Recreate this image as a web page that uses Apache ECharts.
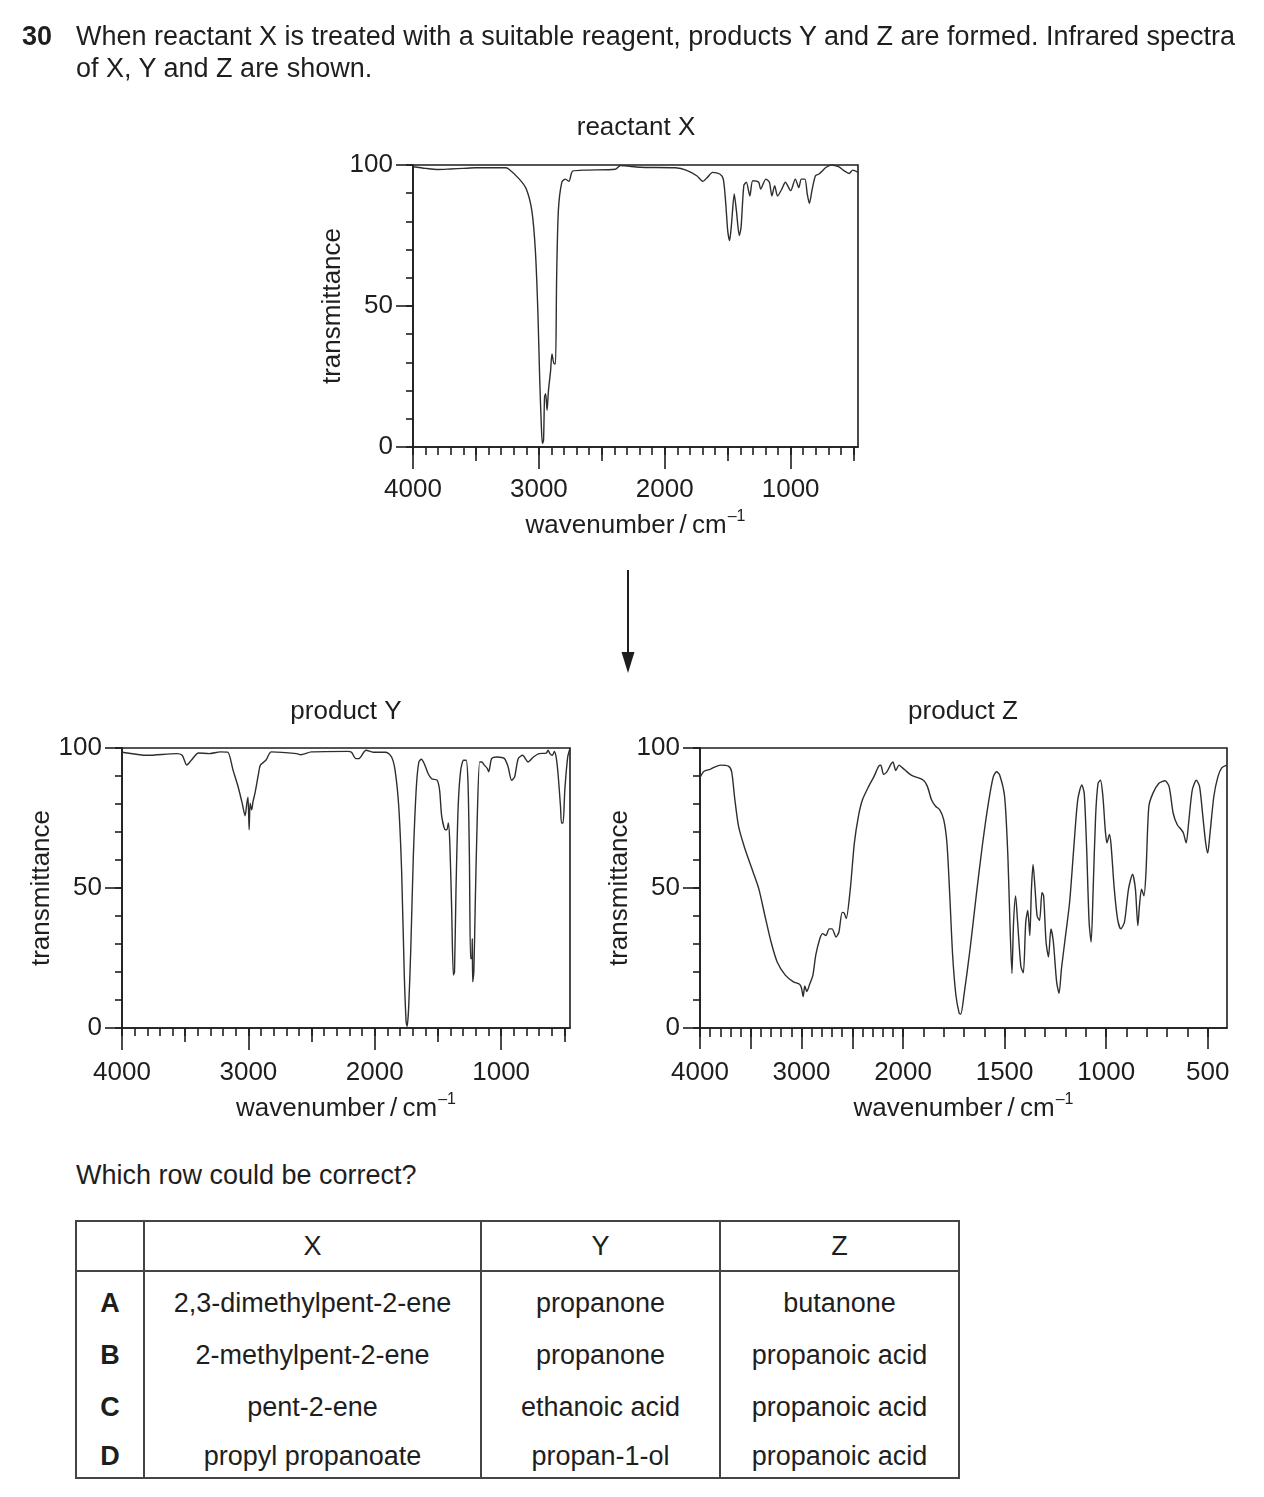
<!DOCTYPE html>
<html>
<head>
<meta charset="utf-8">
<script src="https://cdn.jsdelivr.net/npm/echarts@6/dist/echarts.min.js"></script>
<style>
  html, body { margin: 0; padding: 0; background: #fff; }
  body { font-family: "Liberation Sans", Arial, sans-serif; color: #1e1e1e; }
  #page { position: relative; width: 1264px; height: 1497px; overflow: hidden; }
  #chart { position: absolute; left: 0; top: 0; width: 1264px; height: 1150px; }
  .txt { position: absolute; font-size: 27px; line-height: 32px; white-space: nowrap; }
  table { position: absolute; left: 75px; top: 1220px; border-collapse: collapse; font-size: 27px; }
  td { border-left: 2px solid #444; border-right: 2px solid #444; text-align: center; padding: 0; }
  table { border: 2px solid #444; }
  tr.head td { border-bottom: 2px solid #444; height: 48px; }
  td.let { font-weight: bold; }
</style>
</head>
<body>
<div id="page">
  <div id="chart"></div>
  <div class="txt" style="left:22px;top:20px;font-weight:bold;">30</div>
  <div class="txt" style="left:76px;top:20px;">When reactant X is treated with a suitable reagent, products Y and Z are formed. Infrared spectra<br>of X, Y and Z are shown.</div>
  <div class="txt" style="left:76px;top:1159px;">Which row could be correct?</div>
  <table>
    <colgroup><col style="width:68px"><col style="width:337px"><col style="width:239px"><col style="width:239px"></colgroup>
    <tr class="head"><td></td><td>X</td><td>Y</td><td>Z</td></tr>
    <tr style="height:58px"><td class="let" style="padding-top:6px">A</td><td style="padding-top:6px">2,3-dimethylpent-2-ene</td><td style="padding-top:6px">propanone</td><td style="padding-top:6px">butanone</td></tr>
    <tr style="height:52px"><td class="let">B</td><td>2-methylpent-2-ene</td><td>propanone</td><td>propanoic acid</td></tr>
    <tr style="height:52px"><td class="let">C</td><td>pent-2-ene</td><td>ethanoic acid</td><td>propanoic acid</td></tr>
    <tr style="height:45px"><td class="let" style="padding-top:3px">D</td><td style="padding-top:3px">propyl propanoate</td><td style="padding-top:3px">propan-1-ol</td><td style="padding-top:3px">propanoic acid</td></tr>
  </table>
</div>
<script>
// ---------- data: reactant X ----------
const reactantXWavenumber = [4000,3900,3800,3700,3600,3500,3400,3268,3240,3155,3100,3056,3028,3008,2994,2980,2972,2963,2955,2946,2935,2924,2907,2896,2879,2868,2859,2845,2817,2789,2761,2732,2620,2394,2352,2197,1915,1831,1746,1696,1662,1620,1563,1535,1515,1500,1485,1470,1448,1431,1408,1394,1372,1352,1324,1301,1254,1239,1197,1169,1149,1127,1104,1070,1042,1000,963,935,915,887,868,851,831,803,775,746,718,676,620,577,535,507,465];
const reactantXTransmittance = [99.4,98.8,98.4,98.6,98.8,99,99,99,98.6,95,91.5,83.8,69.7,48,24.8,7,1.2,2.4,17.7,18.9,13,20,27,33,29.5,29.5,60,84,94,95,94.2,97.8,98.2,98.5,99.8,99.2,99,98.2,96.2,94.2,95.6,97.4,96.8,95,86,76.7,73.2,79,89.7,83.8,75,77.9,92.7,93.9,89,94.4,93.9,91.5,95,93.9,89,92.7,89,91.5,93.9,90.9,95,92,95,95,89.7,86.4,90.9,96.2,96.8,98,99.2,100,99.4,98,97,98.2,97.4];

// ---------- data: product Y ----------
const productYWavenumber = [4000,3798,3568,3524,3487,3452,3395,3308,3222,3164,3121,3084,3049,3026,3012,3003,2994,2986,2974,2963,2948,2919,2905,2862,2818,2617,2588,2501,2213,2184,2150,2127,2069,2012,1911,1867,1839,1810,1787,1767,1752,1744,1732,1715,1695,1671,1651,1631,1608,1579,1550,1507,1487,1470,1441,1429,1418,1406,1392,1378,1369,1357,1340,1320,1297,1277,1262,1251,1242,1233,1228,1225,1216,1205,1190,1170,1153,1133,1110,1098,1075,1032,974,945,917,893,865,830,787,744,700,643,628,614,594,579,565,550,530,522,510,496,473,455];
const productYTransmittance = [98.5,97.4,98,97.4,93.9,95.6,98.2,98,98.6,98.5,92,86.6,80.3,75.8,80.3,82.4,70.8,80.3,77.9,80.9,83.8,91,93.9,95.6,98.6,98,97.6,98.6,98.8,98.5,96.2,96.2,99.2,98.5,98.5,96.8,92,79,55.5,20,2.4,0.6,7,28,61,86,95,96,94.4,91,89,88.5,85,75.6,70.8,70.8,73.2,66,43.7,18.9,20,49.6,79,92,95.6,95.6,87.4,61,24.8,24.8,31.9,16.5,20,43.7,73.2,95,95,93.9,92.7,91.5,96.2,96.8,96.2,93.3,88.5,89.7,96.2,97.4,95,96.8,98,98.2,99.2,98,97.4,98.8,96.8,91,79,73.2,73.2,85,96.8,99.8];

// ---------- data: product Z ----------
const productZWavenumber = [4000,3960,3900,3800,3720,3688,3660,3620,3560,3480,3420,3360,3300,3240,3160,3080,3020,3000,2984,2968,2948,2920,2888,2860,2820,2792,2760,2728,2700,2660,2632,2600,2580,2560,2520,2480,2440,2400,2340,2288,2240,2220,2192,2160,2120,2100,2072,2040,2008,1960,1900,1880,1860,1840,1820,1800,1784,1770,1756,1740,1724,1716,1700,1670,1640,1610,1580,1556,1540,1524,1500,1484,1474,1464,1456,1446,1436,1420,1408,1396,1386,1376,1368,1360,1350,1340,1328,1316,1308,1296,1284,1272,1260,1244,1232,1220,1200,1180,1160,1140,1120,1108,1096,1084,1074,1064,1052,1040,1028,1016,1004,996,984,976,960,944,928,910,890,870,856,844,836,826,814,804,790,770,740,710,690,670,650,630,620,606,594,576,556,540,524,510,500,490,470,450,430,405];
const productZTransmittance = [89.5,91.7,92.4,93.9,93.5,91.5,82.6,72,64.3,56,49.6,40,30.7,23.6,18.9,16.5,15.6,14.2,11.2,15,13,15.6,18.9,26,31.9,33.7,33,35.4,35.4,32.5,34.3,41.3,41,39.1,49.6,66,75.6,81.5,86.2,89.7,93.5,93.9,90.6,91.5,94.2,95,92,93.9,93,90.3,88.5,86.2,81.5,79.2,78,74.4,66,47.2,26,11.8,5.3,5,11.8,28.3,47.2,65,80.3,89.7,91.5,90.3,82.6,61.4,37.8,19.5,37.8,47.2,37.8,22,19.7,37.8,42,33,49.6,58.4,49.6,40,38.4,48.4,47.2,30.7,25.4,35.4,30.7,16.5,12.4,21.3,33,44.9,63.8,81.5,86.8,83.8,63.8,37.8,30.7,49.6,75.6,87.4,88.5,82.6,70.3,66.1,69.1,65.5,49.6,39,35.4,37.8,49.6,54.9,49.6,36.6,43.7,49.6,47.2,55.5,79,83.8,87.4,88.3,86.2,76.7,72.6,70.8,69.7,66.1,73.2,85,88.5,86.2,75.6,66.1,62.5,68.5,82.6,89.7,93,93.9];

// ---------- axis ticks ----------
const xyLabelTicks = [4000, 3000, 2000, 1000];
const xyMidTicks = [3500, 2500, 1500, 500];
const zLabelTicks = [4000, 3000, 2000, 1500, 1000, 500];
const zLongTicks = [4000, 3500, 3000, 2500, 2000, 1500, 1000, 500];
const transLabelTicks = [0, 50, 100];
const transMinorTicks = [0, 10, 20, 30, 40, 50, 60, 70, 80, 90, 100];
function stepDown(a, b, s) { const r = []; for (let v = a; v >= b; v -= s) r.push(v); return r; }
const minorWaveTicks = stepDown(4000, 500, 100);

// product Z uses a scale change at 2000 cm-1 (double scale below 2000)
function zPos(w) { return w >= 2000 ? (4000 - w) / 2 : 1000 + (2000 - w); }
function zInv(p) { return p <= 1000 ? 4000 - 2 * p : 2000 - (p - 1000); }

const FONT = '"Liberation Sans", Arial, sans-serif';
const INK = '#1e1e1e';
const LINE = '#2e2e2e';
const FS = 26;

const waveName = '{a|wavenumber\u2009/\u2009cm}{s|\u20131}';
const nameStyle = {
  color: INK, fontFamily: FONT, fontSize: FS,
  rich: {
    a: { fontSize: FS, fontFamily: FONT, color: INK, lineHeight: 30, verticalAlign: 'bottom' },
    s: { fontSize: 16, fontFamily: FONT, color: INK, lineHeight: 30, verticalAlign: 'top', padding: [0, 0, 0, 1] }
  }
};

function xAxesFor(grid, min, max, inverse, map, fmt, levels, labelVals, labelMargin, nameGap) {
  return levels.map((lv, i) => ({
    type: 'value', gridIndex: grid, position: 'bottom', min: min, max: max, inverse: inverse,
    splitLine: { show: false },
    axisLine: { show: i === 0, onZero: false, lineStyle: { color: INK, width: 1.6 } },
    axisTick: { show: true, customValues: lv.vals.map(map), length: lv.len, lineStyle: { color: INK, width: 1.6 } },
    axisLabel: { show: i === 0, customValues: labelVals.map(map), formatter: fmt, margin: labelMargin,
                 fontSize: FS, color: INK, fontFamily: FONT },
    name: i === 0 ? waveName : '', nameLocation: 'middle', nameGap: nameGap, nameTextStyle: nameStyle,
    z: 5
  }));
}
function yAxesFor(grid, nameGap) {
  const base = {
    type: 'value', gridIndex: grid, position: 'left', min: 0, max: 100,
    splitLine: { show: false }
  };
  return [
    Object.assign({}, base, {
      axisLine: { show: true, lineStyle: { color: INK, width: 1.6 } },
      axisTick: { show: true, customValues: transMinorTicks, length: 7, lineStyle: { color: INK, width: 1.6 } },
      axisLabel: { show: true, customValues: transLabelTicks, margin: 20, fontSize: FS, color: INK, fontFamily: FONT },
      name: 'transmittance', nameLocation: 'middle', nameGap: nameGap,
      nameTextStyle: { color: INK, fontFamily: FONT, fontSize: FS }
    }),
    Object.assign({}, base, {
      axisLine: { show: false },
      axisTick: { show: true, customValues: transLabelTicks, length: 17, lineStyle: { color: INK, width: 1.6 } },
      axisLabel: { show: false }
    })
  ];
}

const ident = v => v;
const fmtWave = v => String(Math.round(v));
const fmtZ = p => String(Math.round(zInv(p)));

const xAxes = [].concat(
  xAxesFor(0, 465, 4000, true, ident, fmtWave,
    [{ vals: minorWaveTicks, len: 8 }, { vals: xyMidTicks, len: 14 }, { vals: xyLabelTicks, len: 22 }],
    xyLabelTicks, 30, 62),
  xAxesFor(1, 455, 4000, true, ident, fmtWave,
    [{ vals: minorWaveTicks, len: 8 }, { vals: xyMidTicks, len: 14 }, { vals: xyLabelTicks, len: 22 }],
    xyLabelTicks, 32, 64),
  xAxesFor(2, 0, zPos(405), false, zPos, fmtZ,
    [{ vals: minorWaveTicks, len: 9 }, { vals: zLongTicks, len: 21 }],
    zLabelTicks, 32, 64)
);
const yAxes = [].concat(yAxesFor(0, 55), yAxesFor(1, 63), yAxesFor(2, 64));

function pairs(ws, ts, map) { return ws.map((w, i) => [map(w), ts[i]]); }
const lineBase = { type: 'line', showSymbol: false, smooth: 0.25, animation: false,
  lineStyle: { color: LINE, width: 1.4 }, itemStyle: { color: LINE } };

const gridStyle = { show: true, borderColor: INK, borderWidth: 1.6, backgroundColor: 'transparent', containLabel: false };

const option = {
  animation: false,
  backgroundColor: 'transparent',
  textStyle: { fontFamily: FONT },
  grid: [
    Object.assign({ left: 413, top: 165, width: 445, height: 282 }, gridStyle),
    Object.assign({ left: 122, top: 748, width: 448, height: 280 }, gridStyle),
    Object.assign({ left: 700, top: 748, width: 527, height: 280 }, gridStyle)
  ],
  xAxis: xAxes,
  yAxis: yAxes,
  series: [
    Object.assign({}, lineBase, { name: 'reactant X', xAxisIndex: 0, yAxisIndex: 0,
      data: pairs(reactantXWavenumber, reactantXTransmittance, ident) }),
    Object.assign({}, lineBase, { name: 'product Y', xAxisIndex: 3, yAxisIndex: 2,
      data: pairs(productYWavenumber, productYTransmittance, ident) }),
    Object.assign({}, lineBase, { name: 'product Z', xAxisIndex: 6, yAxisIndex: 4,
      data: pairs(productZWavenumber, productZTransmittance, zPos) })
  ],
  graphic: [
    { type: 'text', x: 636, y: 128, style: { text: 'reactant X', font: FS + 'px ' + FONT, fill: INK, textAlign: 'center', textVerticalAlign: 'middle' } },
    { type: 'text', x: 346, y: 712, style: { text: 'product Y', font: FS + 'px ' + FONT, fill: INK, textAlign: 'center', textVerticalAlign: 'middle' } },
    { type: 'text', x: 963, y: 712, style: { text: 'product Z', font: FS + 'px ' + FONT, fill: INK, textAlign: 'center', textVerticalAlign: 'middle' } },
    { type: 'line', shape: { x1: 628, y1: 570, x2: 628, y2: 656 }, style: { stroke: INK, lineWidth: 2 } },
    { type: 'polygon', shape: { points: [[621.5, 652], [634.5, 652], [628, 673]] }, style: { fill: INK } }
  ]
};

const chart = echarts.init(document.getElementById('chart'), null, { renderer: 'canvas' });
chart.setOption(option);
</script>
</body>
</html>
